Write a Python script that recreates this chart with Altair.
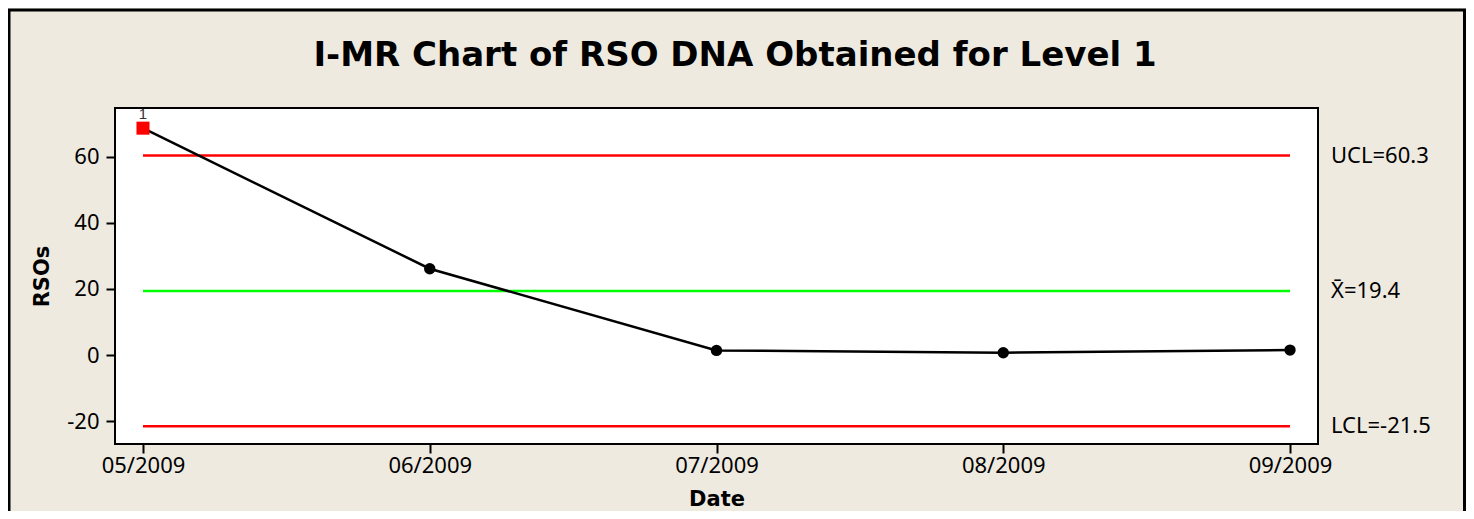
import altair as alt
import pandas as pd

# ---- data ----
dates = ["05/2009", "06/2009", "07/2009", "08/2009", "09/2009"]
rsos = [68.6, 26.1, 1.4, 0.7, 1.5]
status = ["fail", "ok", "ok", "ok", "ok"]
limit_names = ["UCL", "Xbar", "LCL"]
limit_values = [60.3, 19.4, -21.5]
limit_labels = ["UCL=60.3", "X\u0304=19.4", "LCL=-21.5"]
limit_colors = ["#FF0000", "#00FF00", "#FF0000"]
y_ticks = [-20, 0, 20, 40, 60]
chart_title = "I-MR Chart of RSO DNA Obtained for Level 1"

pts = pd.DataFrame({"idx": list(range(len(dates))), "date": dates,
                    "value": rsos, "status": status})
lim = pd.DataFrame({"name": limit_names, "value": limit_values,
                    "label": limit_labels, "color": limit_colors,
                    "x0": [0] * 3, "x1": [len(dates) - 1] * 3})
one = pd.DataFrame({"k": [0]})

xscale = alt.Scale(domain=[-0.0976, 4.0976], nice=False, zero=False)
yscale = alt.Scale(domain=[-26.9, 74.7], nice=False, zero=False)
label_expr = "[" + ",".join("'%s'" % d for d in dates) + "][datum.value]"

xaxis = alt.Axis(values=list(range(len(dates))), labelExpr=label_expr, grid=False,
                 domain=False, tickColor="black", tickWidth=2, tickSize=9,
                 labelFont="Noto Sans", labelFontSize=22, labelColor="black",
                 labelPadding=2, titleFont="DejaVu Sans", titleFontSize=21,
                 titleFontWeight="bold", titleColor="black", titlePadding=12)
yaxis = alt.Axis(values=y_ticks, labelExpr="'' + datum.value", grid=False,
                 domain=False, tickColor="black", tickWidth=2, tickSize=9,
                 labelFont="Noto Sans", labelFontSize=22, labelColor="black",
                 labelPadding=7, titleFont="DejaVu Sans", titleFontSize=21,
                 titleFontWeight="bold", titleColor="black", titlePadding=14)


def X(field):
    return alt.X(field, type="quantitative", scale=xscale, axis=xaxis, title="Date")


def Y(field):
    return alt.Y(field, type="quantitative", scale=yscale, axis=yaxis, title="RSOs")


frame = alt.Chart(one).mark_rect(fillOpacity=0, stroke="black", strokeWidth=3).encode(
    x=alt.value(-106), x2=alt.value(1349.5), y=alt.value(-98), y2=alt.value(420))

limits = alt.Chart(lim).mark_rule(strokeWidth=2.5).encode(
    x=X("x0"), x2="x1", y=Y("value"),
    color=alt.Color("color:N", scale=None))

limit_text = alt.Chart(lim).mark_text(align="left", baseline="middle",
                                      font="Noto Sans", fontSize=22, color="black").encode(
    x=alt.value(1216), y=Y("value"), text="label:N")

line = alt.Chart(pts).mark_line(color="black", strokeWidth=2.5).encode(
    x=X("idx"), y=Y("value"))

dots = alt.Chart(pts).transform_filter("datum.status == 'ok'").mark_point(
    shape="circle", filled=True, size=130, color="black", opacity=1).encode(
    x=X("idx"), y=Y("value"))

fails = alt.Chart(pts).transform_filter("datum.status == 'fail'").mark_point(
    shape="square", filled=True, size=170, color="#FF0000", opacity=1).encode(
    x=X("idx"), y=Y("value"))

fail_label = alt.Chart(pts).transform_filter("datum.status == 'fail'").mark_text(
    font="Liberation Sans", fontSize=15, color="#333333", dy=-9,
    baseline="alphabetic").encode(x=X("idx"), y=Y("value"), text=alt.value("1"))

title = alt.Chart(one).mark_text(font="DejaVu Sans", fontSize=34, fontWeight="bold",
                                 color="black", align="center", baseline="middle").encode(
    x=alt.value(620), y=alt.value(-52), text=alt.value(chart_title))

chart = alt.layer(frame, limits, limit_text, line, dots, fails, fail_label, title).properties(
    width=1203, height=336,
    padding={"left": 107, "top": 100, "right": 148, "bottom": 67},
    autosize=alt.AutoSizeParams(type="none"),
    background="#EEEAE0",
).configure_view(fill="white", stroke="black", strokeWidth=2)

chart.save("out.html", embed_options={"renderer": "svg", "actions": False})
